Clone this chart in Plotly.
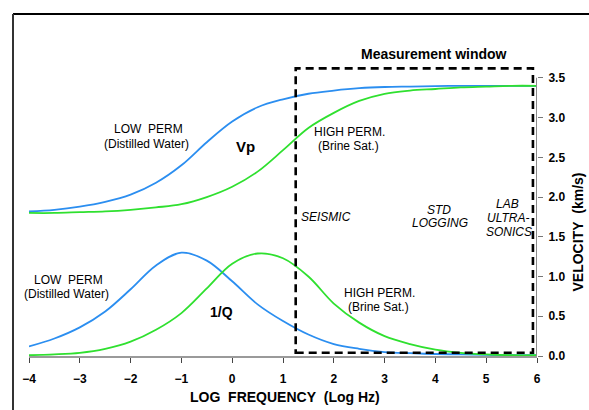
import plotly.graph_objects as go

# ---------------- data ----------------
log_f = [-4, -3.5, -3, -2.5, -2, -1.5, -1, -0.5, 0, 0.5, 1, 1.5, 2, 2.5, 3, 3.5, 4, 4.5, 5, 5.5, 6]

vp_low = [1.82, 1.84, 1.88, 1.94, 2.03, 2.18, 2.40, 2.69, 2.95, 3.13, 3.23, 3.30, 3.34, 3.37,
          3.385, 3.39, 3.395, 3.40, 3.40, 3.40, 3.40]
vp_high = [1.80, 1.80, 1.81, 1.82, 1.84, 1.87, 1.91, 2.00, 2.13, 2.32, 2.59, 2.87, 3.06, 3.21,
           3.30, 3.34, 3.36, 3.38, 3.39, 3.40, 3.40]
invq_low = [0.12, 0.22, 0.36, 0.56, 0.84, 1.14, 1.30, 1.20, 0.94, 0.65, 0.44, 0.27, 0.15, 0.09,
            0.05, 0.035, 0.025, 0.02, 0.015, 0.01, 0.01]
invq_high = [0.01, 0.02, 0.04, 0.09, 0.18, 0.33, 0.54, 0.85, 1.16, 1.29, 1.23, 1.00, 0.66, 0.42,
             0.25, 0.15, 0.08, 0.04, 0.02, 0.01, 0.01]

x_ticks = [-4, -3, -2, -1, 0, 1, 2, 3, 4, 5, 6]
y_ticks = [0.0, 0.5, 1.0, 1.5, 2.0, 2.5, 3.0, 3.5]
y_ticktext = ["0.0", "0.5", "1.0", "1.5", "2.0", "2.5", "3.0", "3.5"]

# measurement window (log f / velocity units)
win_x = [1.25, 5.92]
win_y = [0.04, 3.62]

# ---------------- styling ----------------
FONT = "Liberation Sans, Arial, sans-serif"
BLUE = "#2b8ef0"
GREEN = "#2fe02f"
W, H = 589, 410
ML, MR, MT, MB = 29, 52, 58, 54
PW, PH = W - ML - MR, H - MT - MB


def P(px, py):
    return (px - ML) / PW, (H - MB - py) / PH


fig = go.Figure()
for y, c in [(vp_low, BLUE), (vp_high, GREEN), (invq_low, BLUE), (invq_high, GREEN)]:
    fig.add_trace(go.Scatter(x=log_f, y=y, mode="lines",
                             line=dict(color=c, width=1.8, shape="spline", smoothing=1.0),
                             showlegend=False, hoverinfo="skip"))

shapes = []
# measurement window
shapes.append(dict(type="rect", xref="x", yref="y", x0=win_x[0], x1=win_x[1], y0=win_y[0], y1=win_y[1],
                   line=dict(color="black", width=2.6, dash="8px,5px"), fillcolor="rgba(0,0,0,0)"))
# right velocity axis line
shapes.append(dict(type="line", xref="x", yref="y", x0=6, x1=6, y0=0, y1=3.5,
                   line=dict(color="#8a8a8a", width=2)))
# outer frame (top and left)
fx0, fy0 = P(13, 14)
fx1, _ = P(600, 14)
_, fyb = P(13, 420)
shapes.append(dict(type="line", xref="paper", yref="paper", x0=fx0, x1=fx1, y0=fy0, y1=fy0,
                   line=dict(color="black", width=2.2)))
shapes.append(dict(type="line", xref="paper", yref="paper", x0=fx0, x1=fx0, y0=fyb, y1=fy0,
                   line=dict(color="#333333", width=2)))

ann = []


def A(text, px, py, size=12, bold=False, italic=False, angle=0):
    x, y = P(px, py)
    ann.append(dict(text=text, x=x, y=y, xref="paper", yref="paper", showarrow=False,
                    xanchor="center", yanchor="middle", textangle=angle,
                    font=dict(family=FONT, size=size, color="black",
                              weight="bold" if bold else "normal",
                              style="italic" if italic else "normal")))


NB = "\u00a0"
A("Measurement window", 434, 54, 14, bold=True)
A("LOW" + NB + NB + "PERM", 148, 129)
A("(Distilled Water)", 146, 144)
A("Vp", 245.5, 146, 15, bold=True)
A("HIGH PERM.", 349, 132)
A("(Brine Sat.)", 348, 146)
A("LOW" + NB + NB + "PERM", 68, 280)
A("(Distilled Water)", 66, 294)
A("1/Q", 221.5, 312, 14, bold=True)
A("HIGH PERM.", 379.5, 293)
A("(Brine Sat.)", 378.5, 307)
A("SEISMIC", 326, 217, italic=True)
A("STD", 439, 210, italic=True)
A("LOGGING", 439.5, 223, italic=True)
A("LAB", 507.5, 204, italic=True)
A("ULTRA-", 508, 218, italic=True)
A("SONICS", 508.5, 232, italic=True)
A("LOG" + NB + NB + "FREQUENCY" + NB + NB + "(Log Hz)", 285, 397, 14, bold=True)
A("VELOCITY" + NB + NB + "(km/s)", 577.5, 232, 14, bold=True, angle=-90)

fig.update_layout(
    width=W, height=H,
    margin=dict(l=ML, r=MR, t=MT, b=MB, pad=0),
    paper_bgcolor="white", plot_bgcolor="white",
    shapes=shapes, annotations=ann,
    xaxis=dict(range=[-4, 6], tickvals=x_ticks, ticks="outside", ticklen=5, tickwidth=1,
               tickcolor="#444444", showline=True, linecolor="#9a9a9a", linewidth=2,
               showgrid=False, zeroline=False, ticklabelstandoff=6,
               tickfont=dict(family=FONT, size=12, color="black", weight="bold")),
    yaxis=dict(range=[0, 3.75], side="right", tickvals=y_ticks, ticktext=y_ticktext,
               ticks="outside", ticklen=5, tickwidth=1, tickcolor="#777777",
               showline=False, showgrid=False, zeroline=False, ticklabelstandoff=3,
               tickfont=dict(family=FONT, size=12, color="black", weight="bold")),
)

fig.write_html("out.html")
